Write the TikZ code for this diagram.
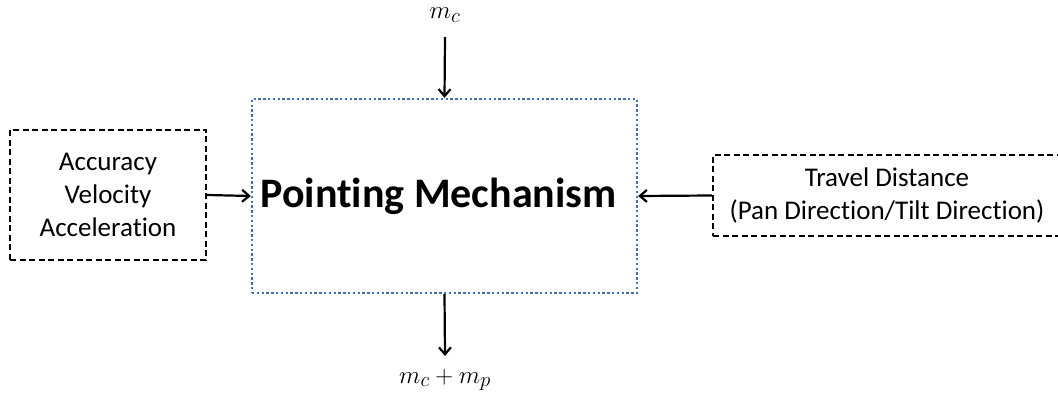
\documentclass[tikz,border=0pt]{standalone}
\usepackage{fontspec}
\setmainfont[Ligatures=NoCommon]{Carlito}
\usetikzlibrary{arrows.meta}
\definecolor{dotblue}{RGB}{70,110,175}
\begin{document}
\begin{tikzpicture}[x=1pt,y=-1pt,
  lbl/.style={font=\fontsize{27}{33}\selectfont, align=center, inner sep=0pt},
  dbox/.style={draw=black, line width=2.2pt, dash pattern=on 6pt off 3.5pt, inner sep=0pt},
  mainbox/.style={draw=dotblue, line width=2.4pt, dash pattern=on 2.4pt off 2.4pt, inner sep=0pt,
     minimum width=385pt, minimum height=194pt, font=\bfseries\fontsize{42}{48}\selectfont},
  arr/.style={line width=2.2pt, -{Straight Barb[length=7pt,width=12pt,line width=2.2pt]}},
  mlbl/.style={font=\fontsize{28}{32}\selectfont, inner sep=0pt}]
\useasboundingbox (0,0) rectangle (1058,398);
\clip (0,0) rectangle (1058,398);
\node[mainbox] (main) at (444.5,196) {Pointing Mechanism\hspace*{12pt}};
\node[dbox, minimum width=196pt, minimum height=130pt, lbl] (left) at (108,195)
  {Accuracy\\Velocity\\Acceleration};
\node[dbox, minimum width=348pt, minimum height=81pt, lbl] (right) at (887,195.5)
  {Travel Distance\\(Pan Direction/Tilt Direction)};
\node[mlbl] (mc) at (445,15) {$m_c$};
\node[mlbl] (mcp) at (445,380) {$m_c+m_p$};
\coordinate (topstart) at (445,37);
\coordinate (botend) at (445,356);
\draw[arr] (topstart) -- (main.north);
\draw[arr] (main.south) -- (botend);
\draw[arr] (left.east) -- (main.west);
\draw[arr] (right.west) -- (main.east);
\end{tikzpicture}
\end{document}
